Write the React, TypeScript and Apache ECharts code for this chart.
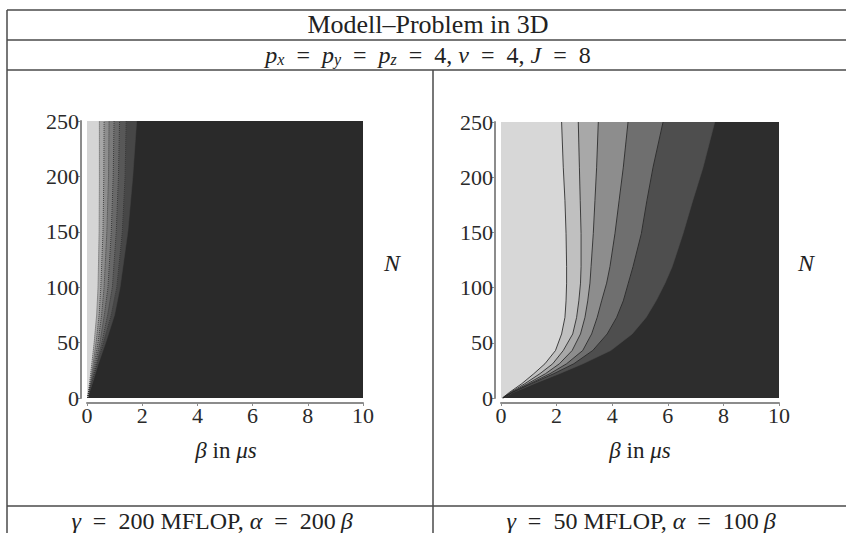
import React, { useEffect, useRef } from "react";
import * as echarts from "echarts";

// ---------- data ----------
const xTickInterval = 2;
const yTickInterval = 50;
const betaMax = 10;
const nMax = 250;

// Left plot: gamma = 200 MFLOP, alpha = 200 beta
const leftN = [0, 5, 15, 30, 50, 75, 100, 150, 200, 250];
const leftC1 = [0.02, 0.05, 0.1, 0.17, 0.26, 0.35, 0.4, 0.44, 0.45, 0.45];
const leftC2 = [0.02, 0.06, 0.13, 0.22, 0.33, 0.44, 0.5, 0.58, 0.61, 0.62];
const leftC3 = [0.02, 0.06, 0.15, 0.26, 0.4, 0.53, 0.62, 0.72, 0.78, 0.8];
const leftC4 = [0.03, 0.07, 0.17, 0.3, 0.47, 0.63, 0.76, 0.88, 0.95, 0.98];
const leftC5 = [0.03, 0.07, 0.19, 0.34, 0.54, 0.75, 0.92, 1.06, 1.14, 1.18];
const leftC6 = [0.03, 0.08, 0.2, 0.36, 0.6, 0.88, 1.08, 1.28, 1.38, 1.42];
const leftC7 = [0.03, 0.08, 0.22, 0.4, 0.68, 1.0, 1.2, 1.48, 1.66, 1.8];
const leftCurves = [leftC1, leftC2, leftC3, leftC4, leftC5, leftC6, leftC7];
const leftBandColors = ["#d5d5d5", "#a6a6a6", "#8e8e8e", "#7b7b7b", "#696969", "#585858", "#474747", "#2a2a2a"];

// Right plot: gamma = 50 MFLOP, alpha = 100 beta
const rightN = [0, 5, 13, 22, 31, 43, 58, 73, 88, 104, 119, 149, 179, 209, 250];
const rightC1 = [0.05, 0.3, 0.75, 1.18, 1.58, 1.96, 2.18, 2.3, 2.34, 2.36, 2.36, 2.34, 2.3, 2.24, 2.18];
const rightC2 = [0.06, 0.34, 0.86, 1.4, 1.86, 2.24, 2.58, 2.72, 2.8, 2.86, 2.88, 2.88, 2.85, 2.82, 2.78];
const rightC3 = [0.07, 0.38, 0.96, 1.6, 2.1, 2.56, 2.86, 3.02, 3.12, 3.2, 3.24, 3.32, 3.38, 3.44, 3.5];
const rightC4 = [0.08, 0.4, 1.04, 1.76, 2.36, 2.94, 3.26, 3.46, 3.62, 3.8, 3.92, 4.1, 4.25, 4.4, 4.57];
const rightC5 = [0.09, 0.42, 1.1, 1.9, 2.62, 3.3, 3.82, 4.16, 4.4, 4.58, 4.75, 5.05, 5.25, 5.47, 5.83];
const rightC6 = [0.1, 0.44, 1.2, 2.1, 2.95, 3.95, 4.72, 5.22, 5.58, 5.9, 6.16, 6.55, 6.9, 7.27, 7.69];
const rightCurves = [rightC1, rightC2, rightC3, rightC4, rightC5, rightC6];
const rightBandColors = ["#d7d7d7", "#c0c0c0", "#a8a8a8", "#8d8d8d", "#6f6f6f", "#4e4e4e", "#2d2d2d"];

const SERIF = "'Liberation Serif', 'Times New Roman', serif";
const SP = "\u2002";

function polySeries(gridIdx: number, Ns: number[], curves: number[][], colors: string[]) {
  const n = curves.length;
  const polys: number[][][] = [];
  const fills: string[] = [];
  polys.push([[0, 0], [betaMax, 0], [betaMax, nMax], [0, nMax]]);
  fills.push(colors[n]);
  for (let k = n - 1; k >= 0; k--) {
    const pts: number[][] = [[0, 0]];
    Ns.forEach((N, i) => pts.push([curves[k][i], N]));
    pts.push([0, nMax]);
    polys.push(pts);
    fills.push(colors[k]);
  }
  return {
    type: "custom",
    coordinateSystem: "cartesian2d",
    xAxisIndex: gridIdx,
    yAxisIndex: gridIdx,
    silent: true,
    clip: true,
    data: polys.map((_, i) => [i * 0.1, 0]),
    renderItem: (params: any, api: any) => {
      const i = params.dataIndex;
      return {
        type: "polygon",
        shape: { points: polys[i].map((p) => api.coord(p)) },
        style: { fill: fills[i], stroke: fills[i], lineWidth: 0.5 },
      };
    },
  };
}

function lineSeries(gridIdx: number, Ns: number[], curves: number[][], color: string, type: string, count: number) {
  return curves.slice(0, count).map((c) => ({
    type: "line",
    xAxisIndex: gridIdx,
    yAxisIndex: gridIdx,
    silent: true,
    symbol: "none",
    data: Ns.map((N, i) => [c[i], N]),
    lineStyle: { color, width: 1, type, opacity: 0.85 },
  }));
}

function axes(gridIdx: number) {
  const axisLine = { show: true, onZero: false, lineStyle: { color: "#8c8c8c", width: 2 } };
  const axisTick = { show: true, length: 3, lineStyle: { color: "#8c8c8c", width: 1 } };
  return {
    x: {
      gridIndex: gridIdx,
      type: "value",
      min: 0,
      max: betaMax,
      interval: xTickInterval,
      offset: 5,
      axisLine,
      axisTick,
      splitLine: { show: false },
      axisLabel: { fontFamily: SERIF, fontSize: 22, color: "#2a2a2a", margin: 1 },
    },
    y: {
      gridIndex: gridIdx,
      type: "value",
      min: 0,
      max: nMax,
      interval: yTickInterval,
      offset: 6,
      axisLine,
      axisTick,
      splitLine: { show: false },
      axisLabel: { fontFamily: SERIF, fontSize: 22, color: "#2a2a2a", margin: 2 },
    },
  };
}

export default function App() {
  const ref = useRef<HTMLDivElement>(null);
  useEffect(() => {
    document.body.style.margin = "0";
    const chart = echarts.init(ref.current!, null, { renderer: "svg" });
    const a0 = axes(0);
    const a1 = axes(1);
    const lineC = "#4a4a4a";
    const lw = 1.5;
    const txt = (x: number, y: number, text: string, size = 21) => ({
      type: "text",
      x,
      y,
      silent: true,
      style: {
        text,
        fontFamily: SERIF,
        fontSize: size,
        fill: "#222",
        align: "center",
        verticalAlign: "middle",
        rich: {
          i: { fontFamily: SERIF, fontStyle: "italic", fontSize: size, fill: "#222" },
          s: { fontFamily: SERIF, fontStyle: "italic", fontSize: Math.round(size * 0.68), fill: "#222", verticalAlign: "bottom", lineHeight: 12 },
        },
      },
    });
    const eq = `${SP}=${SP}`;
    chart.setOption({
      animation: false,
      backgroundColor: "#ffffff",
      grid: [
        { left: 87, top: 121, width: 276, height: 277 },
        { left: 501, top: 122, width: 278, height: 276 },
      ],
      xAxis: [a0.x, a1.x],
      yAxis: [a0.y, a1.y],
      series: [
        polySeries(0, leftN, leftCurves, leftBandColors),
        ...lineSeries(0, leftN, leftCurves, "#303030", "dotted", 6),
        polySeries(1, rightN, rightCurves, rightBandColors),
        ...lineSeries(1, rightN, rightCurves, "#262626", "solid", 5),
      ],
      graphic: [
        { type: "line", shape: { x1: 7, y1: 10, x2: 846, y2: 10 }, style: { stroke: lineC, lineWidth: lw } },
        { type: "line", shape: { x1: 7, y1: 40, x2: 846, y2: 40 }, style: { stroke: lineC, lineWidth: lw } },
        { type: "line", shape: { x1: 7, y1: 70, x2: 846, y2: 70 }, style: { stroke: lineC, lineWidth: lw } },
        { type: "line", shape: { x1: 7, y1: 506, x2: 846, y2: 506 }, style: { stroke: lineC, lineWidth: lw } },
        { type: "line", shape: { x1: 7, y1: 10, x2: 7, y2: 533 }, style: { stroke: lineC, lineWidth: lw } },
        { type: "line", shape: { x1: 433, y1: 70, x2: 433, y2: 533 }, style: { stroke: lineC, lineWidth: lw } },
        txt(428, 24, "Modell–Problem in 3D", 26),
        txt(428, 55, `{i|p}{s|x}${eq}{i|p}{s|y}${eq}{i|p}{s|z}${eq}4, {i|ν}${eq}4, {i|J}${eq}8`, 24),
        txt(392, 263, "{i|N}", 24),
        txt(806, 263, "{i|N}", 24),
        txt(226, 450, "{i|β} in {i|μs}", 23),
        txt(640, 450, "{i|β} in {i|μs}", 23),
        txt(212, 521, `{i|γ}${eq}200 MFLOP, {i|α}${eq}200\u2009{i|β}`, 24),
        txt(641, 521, `{i|γ}${eq}50 MFLOP, {i|α}${eq}100\u2009{i|β}`, 24),
      ],
    });
    return () => chart.dispose();
  }, []);
  return <div ref={ref} style={{ width: 846, height: 533 }} />;
}
